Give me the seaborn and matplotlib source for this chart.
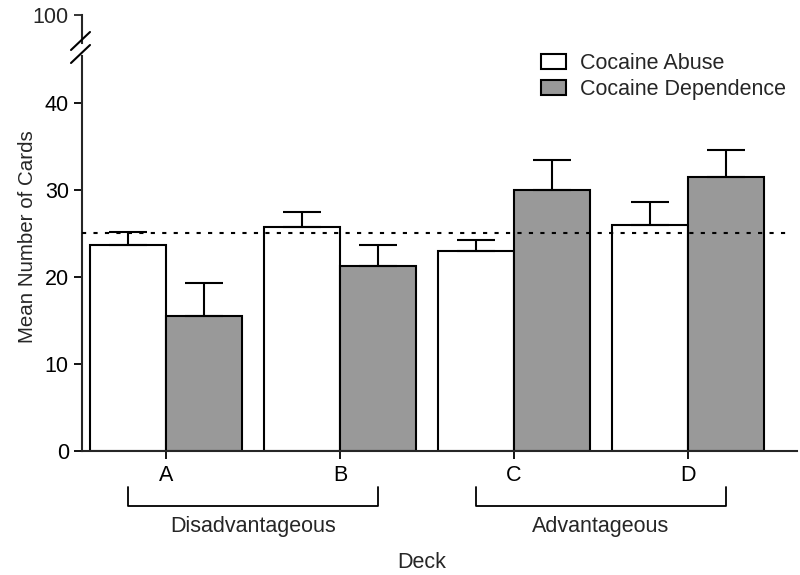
import matplotlib
matplotlib.use('Agg')
import matplotlib.pyplot as plt
from matplotlib.patches import Patch
from matplotlib.lines import Line2D
import seaborn as sns
import pandas as pd

# values
decks = ['A', 'B', 'C', 'D']
groups = ['Cocaine Abuse', 'Cocaine Dependence']
abuse_mean = [23.7, 25.7, 23.0, 26.0]
abuse_sem = [1.5, 1.8, 1.3, 2.6]
dep_mean = [15.5, 21.3, 30.0, 31.5]
dep_sem = [3.8, 2.4, 3.4, 3.1]
chance_level = 25
bracket_names = ['Disadvantageous', 'Advantageous']
bracket_decks = [(0, 1), (2, 3)]

sns.set_style('ticks')
plt.rcParams['font.family'] = ['Liberation Sans', 'DejaVu Sans']
FS = 15.5

df = pd.DataFrame({
    'deck': decks * 2,
    'cards': abuse_mean + dep_mean,
    'group': [groups[0]] * 4 + [groups[1]] * 4,
})
errs = {groups[0]: abuse_sem, groups[1]: dep_sem}

fig = plt.figure(figsize=(8, 5.75), dpi=100)
W, H = 800, 575
# main axes: x 82..797 px, y 56..451 px
ax = fig.add_axes([82 / W, (H - 451) / H, (797 - 82) / W, (451 - 56) / H])
top = fig.add_axes([82 / W, (H - 43) / H, 0.02, (43 - 15) / H])

sns.barplot(data=df, x='deck', y='cards', hue='group', order=decks, hue_order=groups,
            palette=['white', '#999999'], saturation=1, edgecolor='black',
            linewidth=1.5, width=0.875, ax=ax, legend=False)

# upper error bars only
for cont, g in zip(ax.containers, groups):
    xs = [b.get_x() + b.get_width() / 2 for b in cont]
    ys = [b.get_height() for b in cont]
    ax.errorbar(xs, ys, yerr=[[0] * len(ys), errs[g]], fmt='none', ecolor='black',
                elinewidth=1.5, capsize=13.5, capthick=1.5, zorder=1)

ax.axhline(chance_level, xmax=0.99, color='black', lw=1.5, ls=(0, (2, 3.5)), zorder=3)

ax.set_ylim(0, 45.4)
ax.set_xlim(-0.483, 3.626)
ax.set_yticks([0, 10, 20, 30, 40])
ax.set_xlabel('Deck', fontsize=FS, va='top')
ax.xaxis.set_label_coords(0.475, -0.255)
ax.set_ylabel('Mean Number of Cards', fontsize=14.8)
ax.yaxis.set_label_coords(-0.063, 0.542)
ax.tick_params(axis='both', direction='out', length=6, width=1.3, labelsize=FS, colors='black')
ax.tick_params(axis='x', pad=4)
for s in ['top', 'right']:
    ax.spines[s].set_visible(False)
for s in ['left', 'bottom']:
    ax.spines[s].set_linewidth(1.5)

# small top axis carrying the 100 tick
top.set_ylim(0, 100)
top.set_yticks([100])
top.set_xticks([])
top.patch.set_visible(False)
for s in ['top', 'right', 'bottom']:
    top.spines[s].set_visible(False)
top.spines['left'].set_linewidth(1.5)
top.tick_params(axis='y', direction='out', length=6, width=1.3, labelsize=FS)

# axis break slashes
for y0 in [50, 63]:
    fig.add_artist(Line2D([71 / W, 90 / W], [(H - y0) / H, (H - y0 + 18) / H],
                          color='black', lw=1.5, transform=fig.transFigure))

# brackets under the deck labels
trans = ax.get_xaxis_transform()
half = 0.875 / 4
for name, (a, b) in zip(bracket_names, bracket_decks):
    x0, x1 = a - half, b + half
    yb, yt = -0.139, -0.091
    ax.plot([x0, x0, x1, x1], [yt, yb, yb, yt], color='black', lw=1.3,
            transform=trans, clip_on=False)
    ax.text((x0 + x1) / 2, -0.192, name, transform=trans, ha='center', va='center', fontsize=FS)

handles = [Patch(facecolor='white', edgecolor='black', lw=1.5),
           Patch(facecolor='#999999', edgecolor='black', lw=1.5)]
fig.legend(handles, groups, loc='upper left', bbox_to_anchor=(541 / W, 1 - 53 / H),
           frameon=False, fontsize=FS, handlelength=1.16, handleheight=0.7,
           borderpad=0, borderaxespad=0, labelspacing=0.22, handletextpad=0.65)

fig.savefig('out.png', dpi=100)
